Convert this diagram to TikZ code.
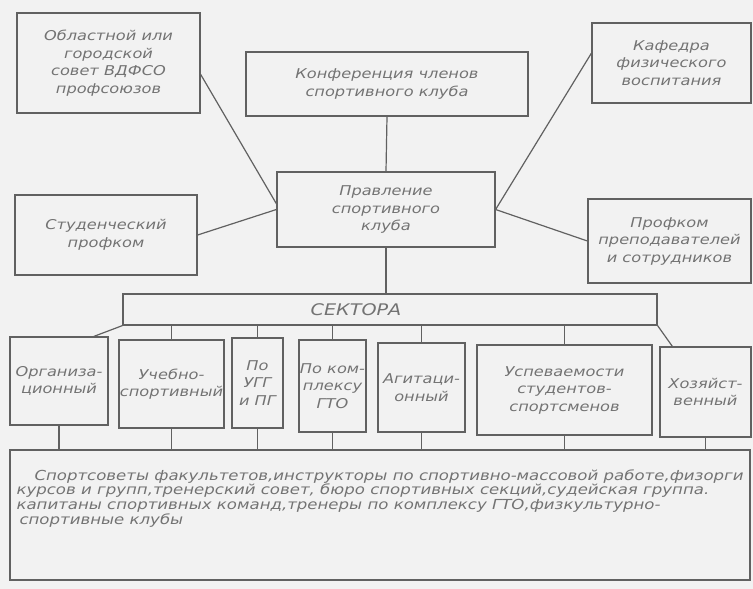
\documentclass[tikz,border=0pt]{standalone}
\usepackage{fontspec}
\newfontfamily\gost{DejaVu Sans}[FakeStretch=1.2]

\tikzset{
    blok/.style={draw=black!62, line width=1.2pt, align=center, inner sep=1pt,
        text=black!55, font=\gost\itshape\fontsize{13.5}{17.5}\selectfont},
    svyaz/.style={draw=black!62, line width=1.2pt}
}

\begin{document}
\begin{tikzpicture}[x=1pt, y=-1pt]
    \path[fill=black!5] (0,0) rectangle (753,589);

    \node[blok, minimum width=183, minimum height=100] (obl) at (108.5,63)
        {Областной или\\городской\\совет ВДФСО\\профсоюзов};
    \node[blok, minimum width=282, minimum height=64] (konf) at (387,84)
        {Конференция членов\\спортивного клуба};
    \node[blok, minimum width=159, minimum height=80] (kaf) at (671.5,63)
        {Кафедра\\физического\\воспитания};
    \node[blok, minimum width=218, minimum height=75] (prav) at (386,209.5)
        {Правление\\спортивного\\клуба};
    \node[blok, minimum width=182, minimum height=80] (stud) at (106,235)
        {Студенческий\\профком};
    \node[blok, minimum width=163, minimum height=84] (prof) at (669.5,241)
        {Профком\\преподавателей\\и сотрудников};

    \node[blok, minimum width=534, minimum height=31,
        font=\gost\itshape\fontsize{16}{18}\selectfont] (sekt) at (390,309.5)
        {СЕКТОРА\hspace*{68pt}};

    \node[blok, minimum width=98, minimum height=88] (org) at (59,381)
        {Организа-\\ционный};
    \node[blok, minimum width=103, minimum height=88] (ucheb) at (171.5,384)
        {Учебно-\\спортивный};
    \node[blok, minimum width=51, minimum height=90] (ugg) at (257.5,383)
        {По\\УГГ\\и ПГ};
    \node[blok, minimum width=61, minimum height=92] (gto) at (332.5,386)
        {По ком-\\плексу\\ГТО};
    \node[blok, minimum width=87, minimum height=89] (agit) at (421.5,387.5)
        {Агитаци-\\онный};
    \node[blok, minimum width=175, minimum height=90] (usp) at (564.5,390)
        {Успеваемости\\студентов-\\спортсменов};
    \node[blok, minimum width=91, minimum height=90] (hoz) at (705.5,392)
        {Хозяйст-\\венный};

    \node[blok, minimum width=740, minimum height=130, align=left,
        font=\gost\itshape\fontsize{13.8}{14.8}\selectfont] (spisok) at (380,515)
        {\hspace*{18pt}Спортсоветы факультетов,инструкторы по спортивно-массовой работе,физорги\\
        курсов и групп,тренерский совет, бюро спортивных секций,судейская группа.\\
        капитаны спортивных команд,тренеры по комплексу ГТО,физкультурно-\\
        \hspace*{3pt}спортивные клубы\rule[-36pt]{0pt}{36pt}};

    \path[svyaz] (obl.-7.5) -- (prav.177);
    \path[svyaz] (stud.east) -- (prav.west);
    \path[svyaz] (konf.south) -- (prav.north);
    \path[svyaz] (prav.east) -- (kaf.173);
    \path[svyaz] (prav.east) -- (prof.west);
    \path[svyaz] (prav.south) -- (sekt.north -| prav.south);

    \path[svyaz] (sekt.south west) -- (org.52);
    \path[svyaz] (ucheb.north |- sekt.south) -- (ucheb.north);
    \path[svyaz] (ugg.north |- sekt.south) -- (ugg.north);
    \path[svyaz] (gto.north |- sekt.south) -- (gto.north);
    \path[svyaz] (agit.north |- sekt.south) -- (agit.north);
    \path[svyaz] (usp.north |- sekt.south) -- (usp.north);
    \path[svyaz] (sekt.south east) -- (hoz.126);

    \path[svyaz] (org.south) -- (org.south |- spisok.north);
    \path[svyaz] (ucheb.south) -- (ucheb.south |- spisok.north);
    \path[svyaz] (ugg.south) -- (ugg.south |- spisok.north);
    \path[svyaz] (gto.south) -- (gto.south |- spisok.north);
    \path[svyaz] (agit.south) -- (agit.south |- spisok.north);
    \path[svyaz] (usp.south) -- (usp.south |- spisok.north);
    \path[svyaz] (hoz.south) -- (hoz.south |- spisok.north);
\end{tikzpicture}
\end{document}
